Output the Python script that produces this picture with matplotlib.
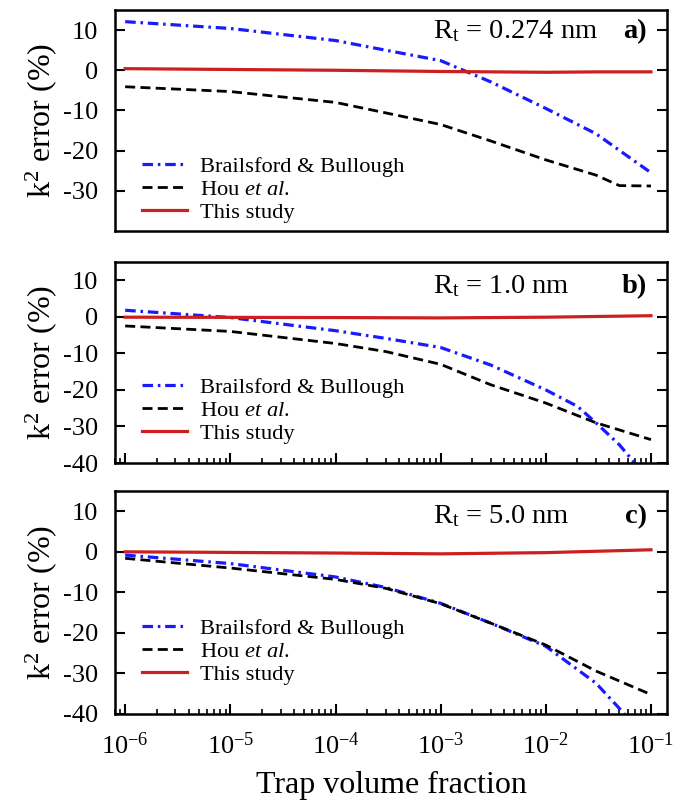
import numpy as np
import matplotlib
matplotlib.use("Agg")
import matplotlib.pyplot as plt
from matplotlib.ticker import LogLocator, NullFormatter

plt.rcParams["font.family"] = ["Liberation Serif", "DejaVu Serif"]
plt.rcParams["mathtext.fontset"] = "custom"
plt.rcParams["mathtext.rm"] = "Liberation Serif"
plt.rcParams["mathtext.it"] = "Liberation Serif:italic"
plt.rcParams["mathtext.bf"] = "Liberation Serif:bold"
plt.rcParams["axes.unicode_minus"] = False

# ---- data ----
# panel a) R_t = 0.274 nm
xa_bb = [1e-6, 1e-5, 1e-4, 3e-4, 1e-3, 3e-3, 1e-2, 3e-2, 1e-1]
ya_bb = [12.1, 10.4, 7.4, 5.0, 2.4, -2.9, -9.5, -15.8, -25.5]
xa_hou = [1e-6, 1e-5, 1e-4, 3e-4, 1e-3, 3e-3, 1e-2, 3e-2, 5e-2, 1e-1]
ya_hou = [-4.1, -5.3, -8.0, -10.6, -13.5, -17.6, -22.3, -26.1, -28.7, -28.8]
xa_ts = [1e-6, 1e-5, 1e-4, 1e-3, 1e-2, 3e-2, 1e-1]
ya_ts = [0.4, 0.2, 0.0, -0.3, -0.5, -0.4, -0.4]

# panel b) R_t = 1.0 nm
xb_bb = [1e-6, 1e-5, 1e-4, 3e-4, 1e-3, 3e-3, 1e-2, 2e-2, 3e-2, 5e-2, 7e-2]
yb_bb = [1.8, -0.2, -3.8, -5.9, -8.4, -13.2, -20.0, -24.5, -29.0, -35.0, -40.0]
xb_hou = [1e-6, 1e-5, 1e-4, 3e-4, 1e-3, 3e-3, 1e-2, 3e-2, 1e-1]
yb_hou = [-2.5, -4.0, -7.3, -9.5, -13.0, -18.6, -23.6, -29.0, -33.6]
xb_ts = [1e-6, 1e-4, 1e-3, 1e-2, 1e-1]
yb_ts = [-0.1, -0.2, -0.3, -0.1, 0.3]

# panel c) R_t = 5.0 nm
xc_bb = [1e-6, 1e-5, 1e-4, 3e-4, 1e-3, 3e-3, 1e-2, 3e-2, 5.6e-2]
yc_bb = [-0.8, -2.9, -6.2, -8.8, -12.7, -17.6, -23.3, -32.4, -40.0]
xc_hou = [1e-6, 1e-5, 1e-4, 3e-4, 1e-3, 3e-3, 1e-2, 3e-2, 1e-1]
yc_hou = [-1.6, -4.0, -6.8, -9.0, -12.8, -17.6, -23.0, -29.4, -35.2]
xc_ts = [1e-6, 1e-4, 1e-3, 1e-2, 1e-1]
yc_ts = [0.0, -0.3, -0.5, -0.2, 0.5]

labels = ["Brailsford & Bullough", r"Hou $\mathit{et\ al}$.", "This study"]
radii = ["0.274", "1.0", "5.0"]
tags = ["a)", "b)", "c)"]
yticks = [10, 0, -10, -20, -30, -40]

panels = [
    (xa_bb, ya_bb, xa_hou, ya_hou, xa_ts, ya_ts),
    (xb_bb, yb_bb, xb_hou, yb_hou, xb_ts, yb_ts),
    (xc_bb, yc_bb, xc_hou, yc_hou, xc_ts, yc_ts),
]

W, H = 681, 806
fig = plt.figure(figsize=(W / 100, H / 100), dpi=100)
left, right = 115, 667
boxes = [(10, 231), (262, 463), (491, 714)]  # top, bottom in pixels
text_y = [0.873, 0.846, 0.858]
leg_y = [-0.035, 0.015, 0.06]

for i, (data, (top, bot)) in enumerate(zip(panels, boxes)):
    ax = fig.add_axes([left / W, (H - bot) / H, (right - left) / W, (bot - top) / H])
    xbb, ybb, xh, yh, xt, yt = data
    ax.plot(xbb, ybb, color="#1a1aff", lw=2.3, dashes=(3.3, 1.5, 0.8, 1.5),
            dash_capstyle="butt", label=labels[0])
    ax.plot(xh, yh, color="black", lw=2.0, dashes=(3.6, 1.9), label=labels[1])
    ax.plot(xt, yt, color="#cc1f1f", lw=2.3, label=labels[2])
    ax.set_xscale("log")
    ax.set_xlim(8.0e-7, 0.142)
    ax.set_ylim(-40, 15)
    ax.set_yticks(yticks if i > 0 else yticks[:-1])
    ax.tick_params(axis="y", which="both", direction="in", left=True, right=True,
                   length=7, width=1.5, labelsize=19, pad=12)
    ax.xaxis.set_major_locator(LogLocator(base=10, numticks=10))
    ax.xaxis.set_minor_locator(LogLocator(base=10, subs=np.arange(2, 10), numticks=10))
    ax.xaxis.set_minor_formatter(NullFormatter())
    if i == 0:
        ax.tick_params(axis="x", which="both", bottom=False, top=False, labelbottom=False)
    else:
        ax.tick_params(axis="x", which="major", direction="in", bottom=True, top=False,
                       length=7, width=1.5, labelsize=19, pad=13)
        ax.tick_params(axis="x", which="minor", direction="in", bottom=True, top=False,
                       length=3.5, width=1.2)
        if i == 1:
            ax.tick_params(axis="x", which="both", labelbottom=False)
    for s in ax.spines.values():
        s.set_linewidth(1.8)
    ax.set_ylabel(r"k$^2$ error (%)", fontsize=23)
    ax.yaxis.set_label_coords(-0.102, 0.5)
    ax.text(0.576, text_y[i], r"R$_\mathregular{t}$ = " + radii[i] + " nm", transform=ax.transAxes,
            ha="left", va="baseline", fontsize=20.5)
    ax.text(0.964, text_y[i], tags[i], transform=ax.transAxes, ha="right", va="baseline",
            fontsize=20.5, fontweight="bold")
    ax.legend(loc="lower left", bbox_to_anchor=(0.02, leg_y[i]), frameon=False, fontsize=16.2,
              handlelength=2.0, handletextpad=0.6, labelspacing=0.1, borderpad=0.2)

ax.set_xlabel("Trap volume fraction", fontsize=23, labelpad=9)

fig.savefig("out.png", dpi=100)
